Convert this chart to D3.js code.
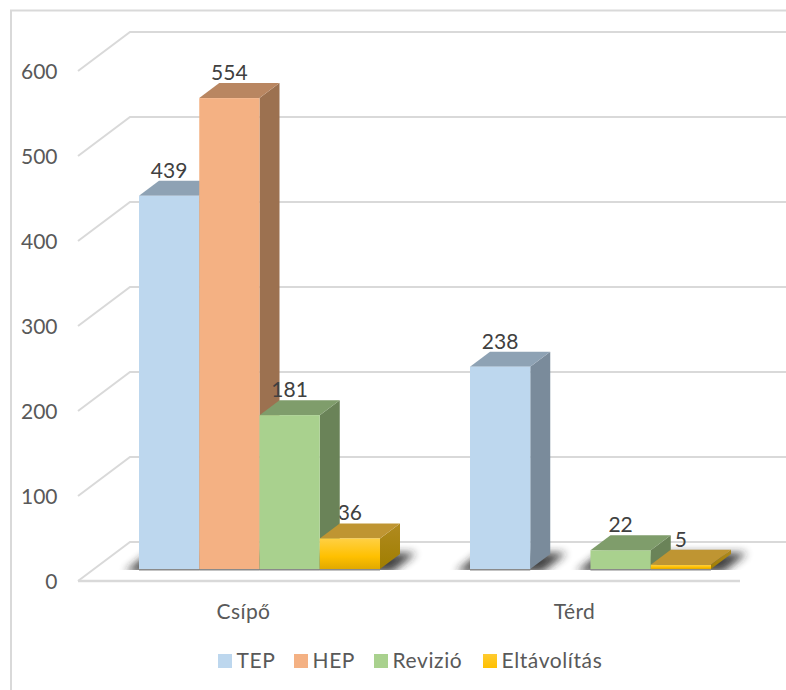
<!DOCTYPE html>
<html><head><meta charset="utf-8">
<script src="https://cdn.jsdelivr.net/npm/d3@7/dist/d3.min.js"></script>
<style>html,body{margin:0;padding:0;background:#fff;overflow:hidden}svg{display:block}
text{font-family:"Lato",sans-serif}</style></head>
<body><svg id="c" width="786" height="690"></svg>
<script>
const categories = ["Csípő", "Térd"];
const seriesNames = ["TEP", "HEP", "Revizió", "Eltávolítás"];
const tep = [439, 238];
const hep = [554, null];
const revizio = [181, 22];
const eltavolitas = [36, 5];
const seriesValues = [tep, hep, revizio, eltavolitas];
const yTicks = [0, 100, 200, 300, 400, 500, 600];
const frontColors = ["#BDD7EE", "#F4B183", "#A9D18E", "url(#gold)"];
const topColors = ["#8EA2B4", "#B98661", "#7F9D6B", "#BF9532"];
const sideColors = ["#7A8B9B", "#9C7150", "#6A8358", "url(#goldSide)"];
const legendSwatch = ["#BDD7EE", "#F4B183", "#A9D18E", "url(#goldLegend)"];
const legendX = [218, 294, 374, 483];

const svg = d3.select("#c");
const defs = svg.append("defs");
function grad(id, stops) {
  const g = defs.append("linearGradient").attr("id", id).attr("x1", 0).attr("y1", 0).attr("x2", 0).attr("y2", 1);
  stops.forEach(s => g.append("stop").attr("offset", s[0]).attr("stop-color", s[1]));
}
grad("gold", [[0, "#FFD044"], [0.6, "#FFC000"], [1, "#E0A900"]]);
grad("goldSide", [[0, "#B08A20"], [1, "#A07E00"]]);
grad("goldLegend", [[0, "#FFCB30"], [1, "#FFC000"]]);
defs.append("filter").attr("id", "blur").attr("x", "-30%").attr("y", "-100%").attr("width", "160%").attr("height", "300%")
  .append("feGaussianBlur").attr("stdDeviation", 4);
defs.append("clipPath").attr("id", "above").append("rect").attr("x", 0).attr("y", 0).attr("width", 786).attr("height", 570);

const wallDx = 52, wallDy = -39;
const depthX = 20, depthY = 15;
const yAxisScale = d3.scaleLinear().domain([0, 600]).range([581, 71]);
const yBar = d3.scaleLinear().domain([0, 600]).range([569, 59]);
const xCat = d3.scaleBand().domain(categories).range([78, 740]);
const xGroup = d3.scaleBand().domain(categories).range([94, 756]);
const groupWidth = 241;
const xSeries = d3.scaleBand().domain(seriesNames).range([0, groupWidth]);
const bw = xSeries.bandwidth();

// Chart frame
svg.append("path").attr("d", "M11,690V10.5H786").attr("fill", "none").attr("stroke", "#D9D9D9").attr("stroke-width", 2);

// Gridlines
const grid = svg.append("g").attr("fill", "none").attr("stroke", "#D9D9D9").attr("stroke-width", 2);
grid.selectAll("path").data(yTicks).join("path")
  .attr("d", d => {
    const y = yAxisScale(d);
    return `M78,${y}L${78 + wallDx},${y + wallDy}H786`;
  });
grid.append("path").attr("d", `M78,${yAxisScale(0)}H740`).attr("stroke-width", 2.5);

// Flatten marks
const marks = [];
categories.forEach((c, ci) => seriesNames.forEach((s, si) => {
  const v = seriesValues[si][ci];
  if (v != null) marks.push({ c, s, si, v, x0: xGroup(c) + (xGroup.bandwidth() - groupWidth) / 2 + xSeries(s) });
}));

// Floor shadows
svg.append("g").attr("clip-path", "url(#above)").append("g").attr("filter", "url(#blur)").attr("opacity", 0.85)
  .selectAll("path").data(marks).join("path")
  .attr("fill", "#222")
  .attr("d", m => {
    const b = yBar(0);
    return `M${m.x0 - 14},${b + 3}L${m.x0 + 10},${b - 16}H${m.x0 + bw + 36}L${m.x0 + bw + 12},${b + 3}Z`;
  });
svg.append("g").selectAll("line").data(marks).join("line")
  .attr("x1", m => m.x0).attr("x2", m => m.x0 + bw)
  .attr("y1", yBar(0) + 0.8).attr("y2", yBar(0) + 0.8)
  .attr("stroke", "#8a8a8a").attr("stroke-width", 1.4);

function labels(sel) {
  sel.append("text")
    .attr("x", m => m.x0 + bw / 2)
    .attr("y", m => yBar(m.v) - depthY - 3)
    .attr("text-anchor", "middle").attr("font-size", 21).attr("fill", "#404040")
    .text(m => m.v);
}
// The last series' labels sit behind the neighbouring bar's side face
labels(svg.append("g").selectAll("g").data(marks.filter(m => m.si === 3)).join("g"));

// Bars
const bars = svg.append("g").selectAll("g").data(marks).join("g");
bars.append("path").attr("fill", m => sideColors[m.si])
  .attr("d", m => {
    const x = m.x0 + bw, t = yBar(m.v), b = yBar(0);
    return `M${x},${t}l${depthX},${-depthY}V${b - depthY}L${x},${b}Z`;
  });
bars.append("path").attr("fill", m => topColors[m.si])
  .attr("d", m => {
    const t = yBar(m.v);
    return `M${m.x0},${t}l${depthX},${-depthY}h${bw}l${-depthX},${depthY}Z`;
  });
bars.append("rect").attr("fill", m => frontColors[m.si])
  .attr("x", m => m.x0).attr("y", m => yBar(m.v))
  .attr("width", bw).attr("height", m => yBar(0) - yBar(m.v));

labels(svg.append("g").selectAll("g").data(marks.filter(m => m.si !== 3)).join("g"));

// Axes
const axisY = svg.append("g").attr("transform", "translate(57.5,1.2)")
  .call(d3.axisLeft(yAxisScale).tickValues(yTicks).tickSize(0).tickPadding(0));
const axisX = svg.append("g").attr("transform", "translate(0,581)")
  .call(d3.axisBottom(xCat).tickSize(0).tickPadding(23));
[axisY, axisX].forEach(a => {
  a.select(".domain").remove();
  a.selectAll("text").attr("font-size", 21).attr("fill", "#595959").style("font-family", '"Lato",sans-serif');
});
axisX.selectAll("text").attr("letter-spacing", 0.4);

// Legend
const legend = svg.append("g").selectAll("g").data(seriesNames).join("g")
  .attr("transform", (d, i) => `translate(${legendX[i]},654)`);
legend.append("rect").attr("width", 14).attr("height", 14).attr("fill", (d, i) => legendSwatch[i]);
legend.append("text").attr("x", 18.5).attr("y", 14).attr("font-size", 21).attr("letter-spacing", 0.6).attr("fill", "#595959").text(d => d);
</script></body></html>
